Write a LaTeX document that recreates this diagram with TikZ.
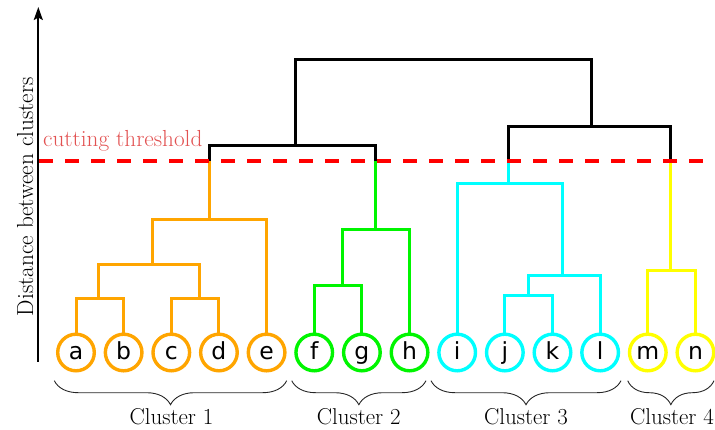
\documentclass[tikz,border=0pt]{standalone}
\usepackage{fontspec}
\newfontfamily\leaffont{DejaVu Sans}
\usetikzlibrary{arrows.meta,decorations.pathreplacing}
\definecolor{cOrange}{RGB}{255,165,0}
\definecolor{cGreen}{RGB}{0,245,0}
\definecolor{cCyan}{RGB}{0,255,255}
\definecolor{cYellow}{RGB}{255,255,0}
\definecolor{cutred}{RGB}{255,0,0}
\definecolor{cuttext}{RGB}{226,82,82}
\tikzset{
  leaf/.style={circle, draw=#1, line width=3.4pt, minimum size=36.6pt, inner sep=0pt,
    font=\leaffont\fontsize{23.5}{24}\selectfont, text height=14pt, text depth=0pt},
  link/.style={draw=#1, line width=3pt},
  merge/.style={draw=black, line width=3pt},
  clbrace/.style={decorate, decoration={brace, mirror, amplitude=24pt}, line width=0.9pt, draw=black!85},
  cllabel/.style={anchor=base, font=\fontsize{22.9}{24}\selectfont}
}
\begin{document}
\begin{tikzpicture}[x=1pt, y=-1pt]
\useasboundingbox (0,0) rectangle (715,429);

% axis
\coordinate (axbot) at (38.3,361.7);
\coordinate (axtop) at (38.3,7);
\draw[line width=2pt, -{Stealth[length=13pt, width=9pt, inset=2.5pt]}] (axbot) -- (axtop);
\node[rotate=90, anchor=base, font=\fontsize{23.2}{24}\selectfont] (ylab) at (33,196.7) {Distance between clusters};

% leaves
\foreach \n/\lab/\c [count=\i from 0] in {a/a/cOrange, b/b/cOrange, c/c/cOrange, d/d/cOrange, e/e/cOrange,
    f/f/cGreen, g/g/cGreen, h/h/cGreen,
    i/i/cCyan, j/j/cCyan, k/k/cCyan, l/l/cCyan,
    m/m/cYellow, n/n/cYellow}
  \node[leaf=\c] (\n) at ({76+47.65*\i},352.5) {\lab};

% merge points
\coordinate (ab) at (98.3,298.3);
\coordinate (cd) at (199,298.3);
\coordinate (abcd) at (152.7,264);
\coordinate (c1) at (209.3,219);
\coordinate (fg) at (342.7,285.7);
\coordinate (c2) at (375.7,229.3);
\coordinate (jk) at (528,295);
\coordinate (jkl) at (562.3,275);
\coordinate (c3) at (508.3,183.3);
\coordinate (c4) at (670.7,270);
\coordinate (c12) at (295,145.7);
\coordinate (c34) at (591,126.7);
\coordinate (top) at (443,59.3);
\coordinate (cut) at (0,161.3);

% cluster 1
\draw[link=cOrange] (a.north) |- (ab) -| (b.north);
\draw[link=cOrange] (c.north) |- (cd) -| (d.north);
\draw[link=cOrange] (ab) |- (abcd) -| (cd);
\draw[link=cOrange] (abcd) |- (c1) -| (e.north);
\draw[link=cOrange] (c1) -- (c1 |- cut);

% cluster 2
\draw[link=cGreen] (f.north) |- (fg) -| (g.north);
\draw[link=cGreen] (fg) |- (c2) -| (h.north);
\draw[link=cGreen] (c2) -- (c2 |- cut);

% cluster 3
\draw[link=cCyan] (j.north) |- (jk) -| (k.north);
\draw[link=cCyan] (jk) |- (jkl) -| (l.north);
\draw[link=cCyan] (i.north) |- (c3) -| (jkl);
\draw[link=cCyan] (c3) -- (c3 |- cut);

% cluster 4
\draw[link=cYellow] (m.north) |- (c4) -| (n.north);
\draw[link=cYellow] (c4) -- (c4 |- cut);

% merges above the threshold
\draw[merge] (c1 |- cut) |- (c12) -| (c2 |- cut);
\draw[merge] (c3 |- cut) |- (c34) -| (c4 |- cut);
\draw[merge] (c12) |- (top) -| (c34);

% cutting threshold
\coordinate (cutL) at (39.3,161.3);
\coordinate (cutR) at (703.3,161.3);
\draw[cutred, line width=4pt, dash pattern=on 13.5pt off 12.5pt] (cutL) -- (cutR);
\node[anchor=base west, text=cuttext, inner sep=0pt, font=\fontsize{23.2}{24}\selectfont] (cutlab) at (43,146) {cutting threshold};

% cluster braces
\coordinate (b1l) at (54.3,380.7);  \coordinate (b1r) at (286.7,380.7);
\coordinate (b2l) at (291.7,380.7); \coordinate (b2r) at (426,380.7);
\coordinate (b3l) at (431,380.7);   \coordinate (b3r) at (621,380.7);
\coordinate (b4l) at (627.7,380.7); \coordinate (b4r) at (714,380.7);
\draw[clbrace] (b1l) -- (b1r);
\draw[clbrace] (b2l) -- (b2r);
\draw[clbrace] (b3l) -- (b3r);
\draw[clbrace] (b4l) -- (b4r);
\node[cllabel] (cl1) at (171.5,424) {Cluster 1};
\node[cllabel] (cl2) at (358.8,424) {Cluster 2};
\node[cllabel] (cl3) at (526,424) {Cluster 3};
\node[cllabel] (cl4) at (672,424) {Cluster 4};
\end{tikzpicture}
\end{document}
